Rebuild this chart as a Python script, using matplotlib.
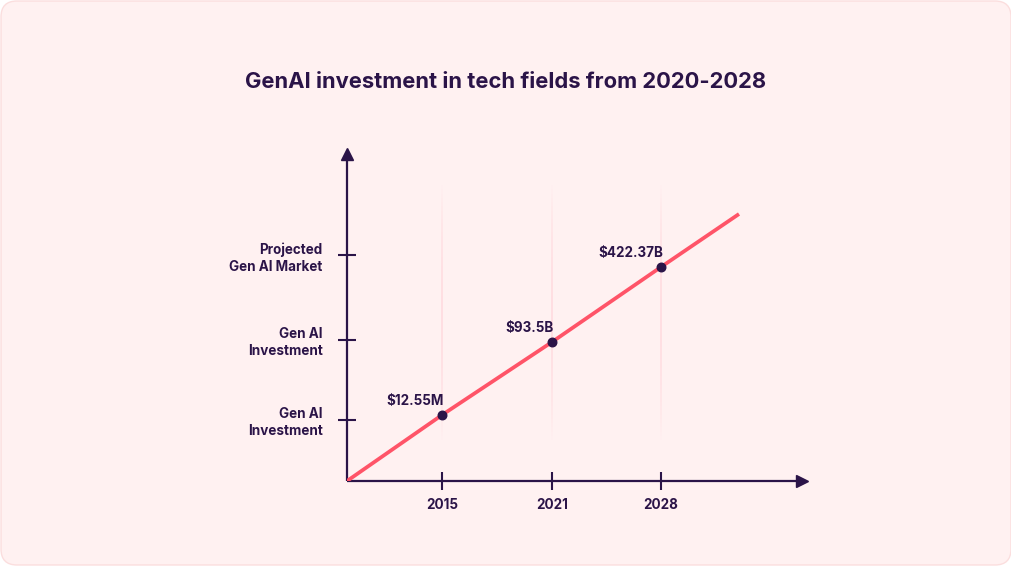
import numpy as np
import matplotlib.pyplot as plt
from matplotlib.patches import FancyBboxPatch

# ----- data -----
YEARS = ["2015", "2021", "2028"]
X_POS = [0.95, 2.05, 3.14]            # year positions on the x axis
POINT_Y = [0.66, 1.39, 2.14]          # heights of the marked points
POINT_LABELS = ["$12.55M", "$93.5B", "$422.37B"]
LINE_X = [0.0, 0.95, 2.05, 3.14, 3.92]
LINE_Y = [0.0, 0.66, 1.39, 2.14, 2.67]
Y_TICKS = [0.61, 1.41, 2.26]
Y_LABELS = ["Gen AI\nInvestment", "Gen AI\nInvestment", "Projected\nGen AI Market"]
TITLE = "GenAI investment in tech fields from 2020-2028"

# colours
DARK = "#2b1448"
RED = "#ff5468"
BG = "#fff1f1"
EDGE = "#fbdede"
FAINT = "#ffc9d1"

FONT = "Inter"

W, H = 1012, 566
fig = plt.figure(figsize=(W / 100, H / 100), dpi=100)
fig.patch.set_facecolor("white")

# rounded card behind everything
bg = fig.add_axes([0, 0, 1, 1])
bg.set_xlim(0, W)
bg.set_ylim(0, H)
bg.axis("off")
bg.add_patch(FancyBboxPatch((17, 17), W - 34, H - 34,
                            boxstyle="round,pad=16,rounding_size=16",
                            facecolor=BG, edgecolor=EDGE, linewidth=1))

fig.text(0.5, 1 - 82 / H, TITLE, ha="center", va="center",
         fontsize=15.8, fontweight="bold", color=DARK, family=FONT)

# main axes, placed in pixels
left, bottom, right, top = 347, 481, 802, 154
ax = fig.add_axes([left / W, 1 - bottom / H, (right - left) / W, (bottom - top) / H])
ax.set_facecolor("none")
ax.set_xlim(0, 4.55)
ax.set_ylim(0, 3.27)

for s in ["top", "right"]:
    ax.spines[s].set_visible(False)
for s in ["left", "bottom"]:
    ax.spines[s].set_color(DARK)
    ax.spines[s].set_linewidth(1.6)
    ax.spines[s].set_capstyle("butt")

# arrow heads
ax.plot(1, 0, ">", color=DARK, markersize=8, transform=ax.transAxes, clip_on=False)
ax.plot(0, 1, "^", color=DARK, markersize=8, transform=ax.transAxes, clip_on=False)

# faint vertical guides that fade at both ends
n = 60
ys = np.linspace(0.41, 2.96, n + 1)
for x in X_POS:
    for i in range(n):
        t = (i + 0.5) / n
        a = np.sin(np.pi * t) ** 0.8 * 0.55
        ax.plot([x, x], [ys[i], ys[i + 1]], color=FAINT, alpha=a, linewidth=1.2,
                solid_capstyle="butt", zorder=1)

ax.plot(LINE_X, LINE_Y, color=RED, linewidth=2.7, solid_capstyle="butt", zorder=3)
ax.scatter(X_POS, POINT_Y, s=38, color=DARK, zorder=4)

for x, y, lab in zip(X_POS, POINT_Y, POINT_LABELS):
    ax.text(x + 0.02, y + 0.07, lab, ha="right", va="bottom", fontsize=9.7,
            fontweight="bold", color=DARK, family=FONT)

ax.set_xticks(X_POS)
ax.set_xticklabels(YEARS)
ax.set_yticks(Y_TICKS)
ax.set_yticklabels(Y_LABELS, ha="right", linespacing=1.25)
ax.tick_params(axis="both", direction="inout", length=13, width=1.5, color=DARK,
               labelcolor=DARK, labelsize=9.7)
ax.tick_params(axis="x", pad=6)
ax.tick_params(axis="y", pad=11)
for lab in ax.get_xticklabels() + ax.get_yticklabels():
    lab.set_fontweight("bold")
    lab.set_family(FONT)

fig.savefig("out.png", dpi=100, facecolor="white")
